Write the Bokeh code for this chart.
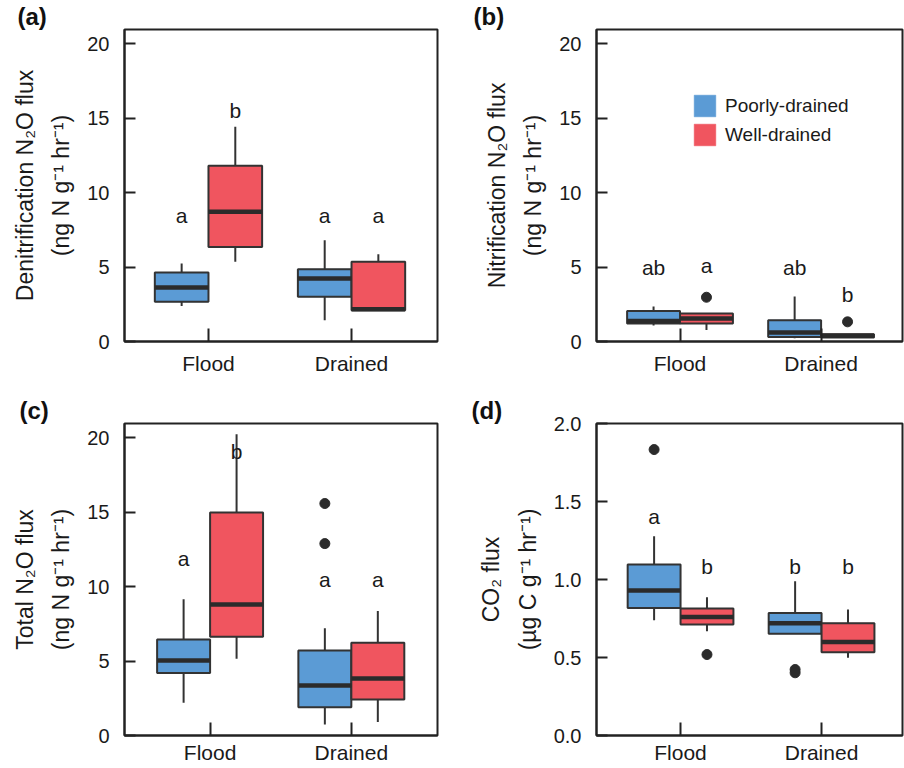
from bokeh.plotting import figure
from bokeh.layouts import gridplot
from bokeh.models import Range1d, FixedTicker, Legend, LegendItem, NumeralTickFormatter
from bokeh.core.properties import value
from bokeh.embed import file_html
from bokeh.resources import INLINE

FONT = "Liberation Sans"
groups = ["Flood", "Drained"]
soils = ["Poorly-drained", "Well-drained"]
soil_colors = ["#5B9BD5", "#F0555F"]

# order of boxes: Flood/Poorly, Flood/Well, Drained/Poorly, Drained/Well
denit_q1 = [2.66, 6.35, 3.00, 2.10]
denit_med = [3.62, 8.70, 4.23, 2.17]
denit_q3 = [4.63, 11.79, 4.85, 5.35]
denit_lo = [2.39, 5.35, 1.43, 2.10]
denit_hi = [5.23, 14.41, 6.80, 5.86]
denit_out = [[], [], [], []]
denit_letters = ["a", "b", "a", "a"]
denit_letter_y = [8.43, 15.5, 8.43, 8.43]

nitr_q1 = [1.21, 1.21, 0.31, 0.27]
nitr_med = [1.38, 1.54, 0.60, 0.38]
nitr_q3 = [2.05, 1.88, 1.43, 0.49]
nitr_lo = [1.07, 0.78, 0.22, 0.27]
nitr_hi = [2.35, 1.88, 3.02, 0.49]
nitr_out = [[], [2.97], [], [1.32]]
nitr_letters = ["ab", "a", "ab", "b"]
nitr_letter_y = [5.0, 5.12, 5.0, 3.18]

total_q1 = [4.19, 6.63, 1.90, 2.42]
total_med = [5.04, 8.80, 3.36, 3.83]
total_q3 = [6.45, 14.96, 5.71, 6.23]
total_lo = [2.19, 5.15, 0.74, 0.90]
total_hi = [9.14, 20.22, 7.19, 8.35]
total_out = [[], [], [15.57, 12.88], []]
total_letters = ["a", "b", "a", "a"]
total_letter_y = [11.89, 19.04, 10.48, 10.48]

co2_q1 = [0.818, 0.712, 0.652, 0.534]
co2_med = [0.929, 0.759, 0.720, 0.600]
co2_q3 = [1.096, 0.814, 0.786, 0.720]
co2_lo = [0.739, 0.669, 0.652, 0.498]
co2_hi = [1.278, 0.887, 0.989, 0.808]
co2_out = [[1.833], [0.519], [0.423, 0.402], []]
co2_letters = ["a", "b", "b", "b"]
co2_letter_y = [1.406, 1.085, 1.085, 1.085]

n2o_ticks = [0, 5, 10, 15, 20]
co2_ticks = [0.0, 0.5, 1.0, 1.5, 2.0]

DARK = "#2b2b2b"
HALF = 0.1875


def make_panel(tag, ylabel, q1, med, q3, lo, hi, outs, letters, letter_y,
               xr, yr, yticks, borders, title_offset, fmt=None):
    left, right, top, bottom = borders
    p = figure(width=452, height=384, output_backend="svg", toolbar_location=None,
               x_range=Range1d(*xr), y_range=Range1d(*yr),
               min_border_left=left, min_border_right=right,
               min_border_top=top, min_border_bottom=bottom)
    p.background_fill_color = "white"
    p.border_fill_color = "white"
    p.outline_line_color = "#222222"
    p.outline_line_width = 2
    p.xgrid.visible = False
    p.ygrid.visible = False

    xc = []
    cols = []
    for gi in range(len(groups)):
        for si in range(len(soils)):
            xc.append(gi + 1 + (2 * si - 1) * HALF)
            cols.append(soil_colors[si])

    # colour-only underlay per soil (used as legend glyphs)
    legend_rs = []
    for si, c in enumerate(soil_colors):
        idx = [i for i in range(len(xc)) if i % 2 == si]
        r = p.quad(left=[xc[i] - HALF for i in idx], right=[xc[i] + HALF for i in idx],
                   bottom=[q1[i] for i in idx], top=[q3[i] for i in idx],
                   fill_color=c, line_color=c, line_width=1, line_alpha=0.5)
        legend_rs.append(r)

    # whiskers
    p.segment(x0=xc, y0=q3, x1=xc, y1=hi, line_color="#333333", line_width=2)
    p.segment(x0=xc, y0=q1, x1=xc, y1=lo, line_color="#333333", line_width=2)
    # boxes
    p.quad(left=[x - HALF for x in xc], right=[x + HALF for x in xc],
           bottom=q1, top=q3, fill_color=cols, line_color="#333333", line_width=2)
    # medians
    p.segment(x0=[x - HALF for x in xc], x1=[x + HALF for x in xc], y0=med, y1=med,
              line_color=DARK, line_width=4.5)
    # outliers
    ox, oy = [], []
    for x, vals in zip(xc, outs):
        for v in vals:
            ox.append(x)
            oy.append(v)
    if ox:
        p.scatter(x=ox, y=oy, size=10, fill_color=DARK, line_color=DARK)
    # letters
    p.text(x=xc, y=letter_y, text=letters, text_align="center", text_baseline="middle",
           text_font=value(FONT), text_font_size="21px", text_color="#1a1a1a")

    # axes
    p.xaxis.ticker = FixedTicker(ticks=[1, 2])
    p.xaxis.major_label_overrides = {1: groups[0], 2: groups[1]}
    p.yaxis.ticker = FixedTicker(ticks=yticks)
    if fmt:
        p.yaxis.formatter = NumeralTickFormatter(format=fmt)
    for ax in (p.xaxis, p.yaxis):
        ax.axis_line_color = "#222222"
        ax.axis_line_width = 2
        ax.major_tick_line_color = "#222222"
        ax.major_tick_line_width = 2
        ax.major_tick_out = 0
        ax.minor_tick_line_color = None
        ax.major_label_text_font = FONT
        ax.major_label_text_color = "#1a1a1a"
    p.xaxis.major_tick_in = 13
    p.yaxis.major_tick_in = 11
    p.xaxis.major_label_text_font_size = "21px"
    p.yaxis.major_label_text_font_size = "20px"
    p.xaxis.major_label_standoff = 10 if bottom > 40 else 5
    p.yaxis.major_label_standoff = 15
    p.yaxis.axis_label = ylabel
    p.yaxis.axis_label_text_font = FONT
    p.yaxis.axis_label_text_font_size = "23px"
    p.yaxis.axis_label_text_font_style = "normal"
    p.yaxis.axis_label_text_color = "#1a1a1a"
    p.yaxis.axis_label_standoff = 10
    p.yaxis.axis_label_text_line_height = 1.4

    p.title.text = tag
    p.title.text_font = FONT
    p.title.text_font_size = "24px"
    p.title.text_font_style = "bold"
    p.title.text_color = "#111111"
    p.title.align = "left"
    p.title.offset = title_offset
    p.title.standoff = 0
    return p, legend_rs


pa, _ = make_panel("(a)", "Denitrification N\u2082O flux\n(ng N g\u207b\u00b9 hr\u207b\u00b9)",
                   denit_q1, denit_med, denit_q3, denit_lo, denit_hi, denit_out,
                   denit_letters, denit_letter_y,
                   (0.413, 2.601), (0, 20.94), n2o_ticks, (124, 15, 29, 43), -107)
pb, leg_r = make_panel("(b)", "Nitrification N\u2082O flux\n(ng N g\u207b\u00b9 hr\u207b\u00b9)",
                       nitr_q1, nitr_med, nitr_q3, nitr_lo, nitr_hi, nitr_out,
                       nitr_letters, nitr_letter_y,
                       (0.408, 2.577), (0, 20.94), n2o_ticks, (142, 2, 29, 43), -123)
pc, _ = make_panel("(c)", "Total N\u2082O flux\n(ng N g\u207b\u00b9 hr\u207b\u00b9)",
                   total_q1, total_med, total_q3, total_lo, total_hi, total_out,
                   total_letters, total_letter_y,
                   (0.394, 2.61), (0, 20.94), n2o_ticks, (122, 15, 39, 33), -105)
pd_, _ = make_panel("(d)", "CO\u2082 flux\n(\u00b5g C g\u207b\u00b9 hr\u207b\u00b9)",
                    co2_q1, co2_med, co2_q3, co2_lo, co2_hi, co2_out,
                    co2_letters, co2_letter_y,
                    (0.404, 2.574), (0, 2.0), co2_ticks, (144, 2, 39, 33), -125, fmt="0.0")

# legend in panel (b)
legend = Legend(items=[LegendItem(label=s, renderers=[r]) for s, r in zip(soils, leg_r)],
                location=(95, 193), glyph_width=27, glyph_height=27, label_height=27,
                spacing=2, padding=0, margin=0, label_standoff=7,
                label_text_font=FONT, label_text_font_size="19px",
                label_text_color="#1a1a1a",
                border_line_color=None, background_fill_alpha=0)
pb.add_layout(legend)

grid = gridplot([[pa, pb], [pc, pd_]], toolbar_location=None)

open("out.html", "w").write(file_html(grid, INLINE))
